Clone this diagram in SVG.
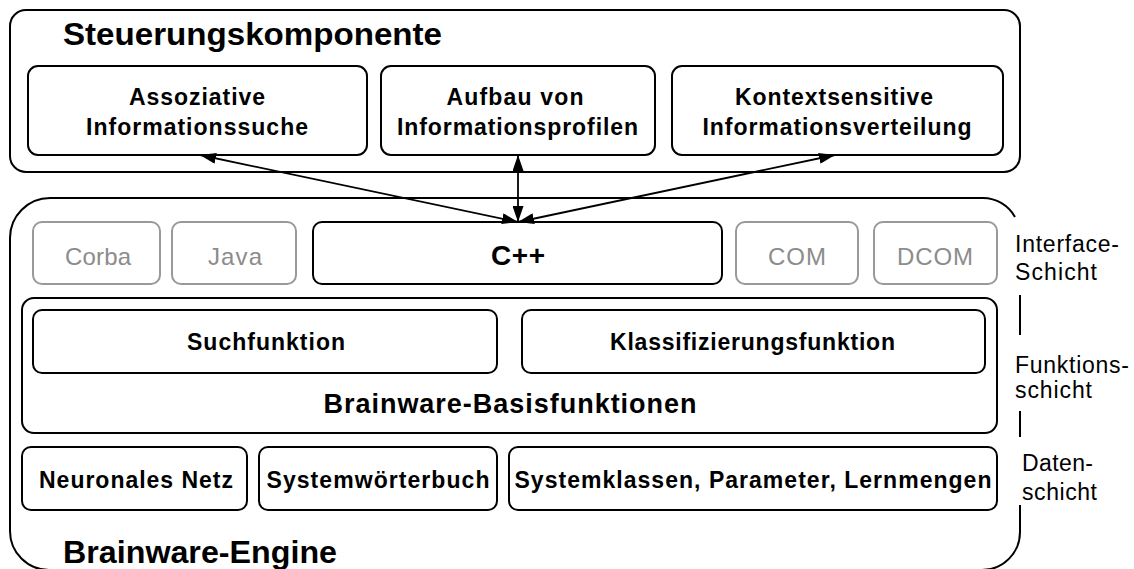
<svg xmlns="http://www.w3.org/2000/svg" width="1134" height="569" viewBox="0 0 1134 569">
<defs>
<style>
.box{fill:#fff;stroke:#000;stroke-width:2}
.gbox{fill:#fff;stroke:#999;stroke-width:2}
.frame{fill:none;stroke:#000;stroke-width:2}
.b{font-family:"Liberation Sans",Arial,sans-serif;font-weight:bold;fill:#000}
.r{font-family:"Liberation Sans",Arial,sans-serif;fill:#000}
.g{font-family:"Liberation Sans",Arial,sans-serif;fill:#8c8c8c;font-size:24px}
.m{text-anchor:middle}
.lbl{font-size:23px}
.conn{stroke:#000;stroke-width:1.8;fill:none;marker-start:url(#ah);marker-end:url(#ah)}
</style>
<marker id="ah" markerUnits="userSpaceOnUse" markerWidth="17" markerHeight="11" refX="16" refY="5.5" orient="auto-start-reverse">
<path d="M0,0 L16,5.5 L0,11 z" fill="#000"/>
</marker>
</defs>
<rect width="1134" height="569" fill="#fff"/>

<g id="steuerungskomponente">
<rect class="box" x="10" y="10" width="1010" height="162" rx="16"/>
<text class="b" x="63" y="45" font-size="32" textLength="379" lengthAdjust="spacingAndGlyphs">Steuerungskomponente</text>
</g>
<g id="assoziative">
<rect class="box" x="28" y="66" width="339" height="89" rx="10"/>
<text class="b m lbl" x="197" y="105" textLength="136">Assoziative</text>
<text class="b m lbl" x="197" y="135" textLength="222">Informationssuche</text>
</g>
<g id="aufbau">
<rect class="box" x="381" y="66" width="274" height="89" rx="10"/>
<text class="b m lbl" x="515" y="105" textLength="137">Aufbau von</text>
<text class="b m lbl" x="517.5" y="135" textLength="241">Informationsprofilen</text>
</g>
<g id="kontext">
<rect class="box" x="672" y="66" width="331" height="89" rx="10"/>
<text class="b m lbl" x="834" y="105" textLength="198">Kontextsensitive</text>
<text class="b m lbl" x="837" y="135" textLength="269">Informationsverteilung</text>
</g>

<g id="brainware-engine">
<path class="frame" d="M1015,217 A37,37 0 0 0 983,198 L50,198 A40,40 0 0 0 10,238 L10,531 A39,39 0 0 0 49,570 L982,570 A38,38 0 0 0 1020,532 L1020,505"/>
<line class="frame" x1="1020" y1="295" x2="1020" y2="335"/>
<line class="frame" x1="1020" y1="411" x2="1020" y2="437"/>
<text class="b" x="63" y="563" font-size="32" textLength="274" lengthAdjust="spacingAndGlyphs">Brainware-Engine</text>
</g>

<g id="corba">
<rect class="gbox" x="33" y="222" width="127" height="62" rx="9"/>
<text class="g m" x="98" y="265" textLength="66">Corba</text>
</g>
<g id="java">
<rect class="gbox" x="172" y="222" width="124" height="62" rx="9"/>
<text class="g m" x="235" y="265" textLength="54">Java</text>
</g>
<g id="cpp">
<rect class="box" x="313" y="222" width="409" height="62" rx="9"/>
<text class="b m" x="518" y="265" font-size="28" textLength="54">C++</text>
</g>
<g id="com">
<rect class="gbox" x="736" y="222" width="122" height="62" rx="9"/>
<text class="g m" x="797" y="265" textLength="58">COM</text>
</g>
<g id="dcom">
<rect class="gbox" x="874" y="222" width="123" height="62" rx="9"/>
<text class="g m" x="935" y="265" textLength="76">DCOM</text>
</g>

<g id="basisfunktionen">
<rect class="box" x="22" y="298" width="975" height="135" rx="12"/>
<text class="b m" x="510" y="413" font-size="27" textLength="373">Brainware-Basisfunktionen</text>
</g>
<g id="suchfunktion">
<rect class="box" x="33" y="310" width="464" height="63" rx="9"/>
<text class="b m lbl" x="266" y="350" textLength="158">Suchfunktion</text>
</g>
<g id="klassifizierungsfunktion">
<rect class="box" x="522" y="310" width="463" height="63" rx="9"/>
<text class="b m lbl" x="752.5" y="350" textLength="285">Klassifizierungsfunktion</text>
</g>

<g id="neuronales-netz">
<rect class="box" x="22" y="447" width="225" height="63" rx="9"/>
<text class="b m lbl" x="136" y="488" textLength="194">Neuronales Netz</text>
</g>
<g id="systemwoerterbuch">
<rect class="box" x="259" y="447" width="238" height="63" rx="9"/>
<text class="b m lbl" x="378" y="488" textLength="223">Systemwörterbuch</text>
</g>
<g id="systemklassen">
<rect class="box" x="509" y="447" width="488" height="63" rx="9"/>
<text class="b m lbl" x="753" y="488" textLength="477">Systemklassen, Parameter, Lernmengen</text>
</g>

<g id="layer-labels">
<text class="r lbl" x="1015" y="252" textLength="104">Interface-</text>
<text class="r lbl" x="1015" y="280" textLength="82">Schicht</text>
<text class="r lbl" x="1015" y="373" textLength="114">Funktions-</text>
<text class="r lbl" x="1015" y="398" textLength="77">schicht</text>
<text class="r lbl" x="1022" y="471" textLength="71">Daten-</text>
<text class="r lbl" x="1022" y="500" textLength="75">schicht</text>
</g>

<g id="connectors">
<line class="conn" x1="200" y1="155" x2="518" y2="222"/>
<line class="conn" x1="518" y1="155" x2="518" y2="222"/>
<line class="conn" x1="835" y1="155" x2="518" y2="222"/>
</g>
</svg>
